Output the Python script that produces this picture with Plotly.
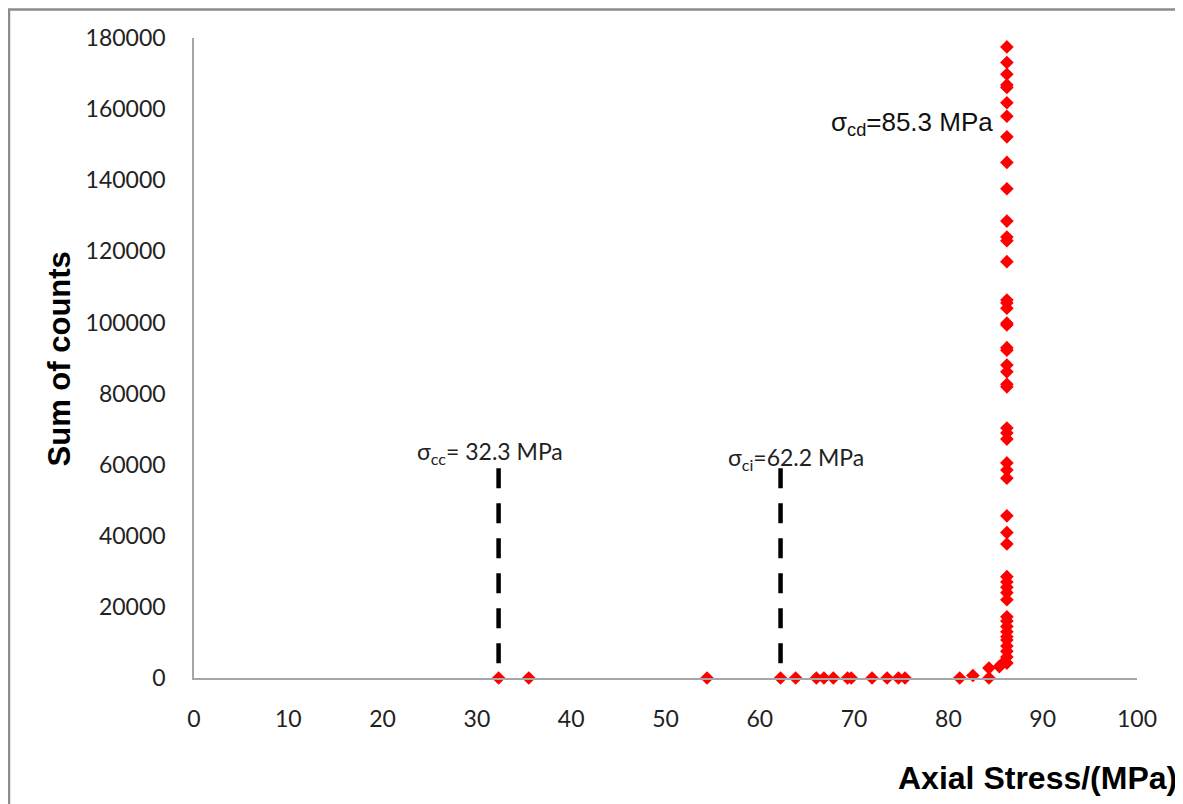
import plotly.graph_objects as go

# ---- data ----
stress_mpa = [32.3, 35.5, 54.4, 62.2, 63.8, 66.0, 66.8, 67.8, 69.3, 69.7,
              71.9, 73.5, 74.7, 75.4, 81.2, 82.6, 84.3, 84.3, 85.4, 85.7,
              86.2, 86.2, 86.2, 86.2, 86.2, 86.2, 86.2, 86.2, 86.2, 86.2,
              86.2, 86.2, 86.2, 86.2, 86.2, 86.2, 86.2, 86.2, 86.2, 86.2,
              86.2, 86.2, 86.2, 86.2, 86.2, 86.2, 86.2, 86.2, 86.2, 86.2,
              86.2, 86.2, 86.2, 86.2, 86.2, 86.2, 86.2, 86.2, 86.2, 86.2,
              86.2, 86.2, 86.2, 86.2, 86.2, 86.2, 86.2, 86.2, 86.2]
sum_counts = [0, 0, 0, 0, 0, 0, 0, 0, 0, 0,
              0, 0, 0, 0, 0, 700, 0, 2800, 3200, 4000,
              4200, 5900, 7500, 9000, 10700, 11600, 13000, 14500, 16000, 17200,
              22000, 24000, 25500, 27000, 28500, 37700, 40900, 45600, 56200, 58500,
              60500, 67200, 68900, 70300, 81900, 82600, 86100, 88000, 92200, 92900,
              99300, 99800, 104000, 105500, 106300, 117100, 123000, 124000, 128500, 137600,
              145000, 152200, 158000, 161800, 166100, 166800, 169800, 173100, 177500]

threshold_stress = [32.3, 62.2]
threshold_top = [59000, 59000]
threshold_bottom = [3100, 3100]

x_ticks = list(range(0, 101, 10))
y_ticks = list(range(0, 180001, 20000))
y_tick_labels = [str(v) for v in y_ticks]
x_tick_labels = [str(v) for v in x_ticks]

fig = go.Figure()

# dashed threshold lines
for xs, yt, yb in zip(threshold_stress, threshold_top, threshold_bottom):
    fig.add_trace(go.Scatter(
        x=[xs, xs], y=[yt, yb], mode="lines",
        line=dict(color="black", width=4.5, dash="20px,15px"),
        hoverinfo="skip", showlegend=False))

fig.add_trace(go.Scatter(
    x=stress_mpa, y=sum_counts, mode="markers",
    marker=dict(symbol="diamond", size=10.5, color="#ff0000", line=dict(width=0)),
    showlegend=False, cliponaxis=False))

axis_grey = "#a6a6a6"
fig.update_xaxes(range=[0, 100], tickvals=x_ticks, ticktext=x_tick_labels,
                 showgrid=False, zeroline=False, automargin=False,
                 showline=True, linecolor=axis_grey, linewidth=1.5, ticks="",
                 tickfont=dict(family="Lato", size=23, color="#222"),
                 ticklabelstandoff=20)
fig.update_yaxes(range=[0, 180000], tickvals=y_ticks, ticktext=y_tick_labels,
                 showgrid=False, zeroline=False, automargin=False,
                 showline=True, linecolor=axis_grey, linewidth=1.5, ticks="",
                 tickfont=dict(family="Lato", size=23, color="#222"),
                 ticklabelstandoff=22)

fig.add_annotation(x=23.4, y=63400, xanchor="left", yanchor="middle", showarrow=False,
                   text="σ<sub>cc</sub>= 32.3 MPa",
                   font=dict(family="Lato", size=23, color="#222"))
fig.add_annotation(x=56.4, y=61800, xanchor="left", yanchor="middle", showarrow=False,
                   text="σ<sub>ci</sub>=62.2 MPa",
                   font=dict(family="Lato", size=23, color="#222"))
fig.add_annotation(x=84.9, y=156000, xanchor="right", yanchor="middle", showarrow=False,
                   text="σ<sub>cd</sub>=85.3 MPa",
                   font=dict(family="Liberation Sans", size=26, color="#111"))

# axis titles
fig.add_annotation(xref="paper", yref="paper", x=-0.143, y=0.498, textangle=-90,
                   xanchor="center", yanchor="middle", showarrow=False,
                   text="<b>Sum of counts</b>",
                   font=dict(family="Liberation Sans", size=31, color="black"))
fig.add_annotation(xref="paper", yref="paper", x=1.045, y=-0.156,
                   xanchor="right", yanchor="middle", showarrow=False,
                   text="<b>Axial Stress/(MPa)</b>",
                   font=dict(family="Liberation Sans", size=32, color="black"))

# chart-area border
fig.add_shape(type="rect", xref="paper", yref="paper",
              x0=-0.1962, x1=1.0467, y0=-0.25, y1=1.0445,
              line=dict(color="#8c8c8c", width=2.5), fillcolor="rgba(0,0,0,0)", layer="below")

fig.update_layout(width=1183, height=804, plot_bgcolor="white", paper_bgcolor="white",
                  margin=dict(l=186, r=54, t=30, b=134), showlegend=False)

fig.write_html("out.html")
